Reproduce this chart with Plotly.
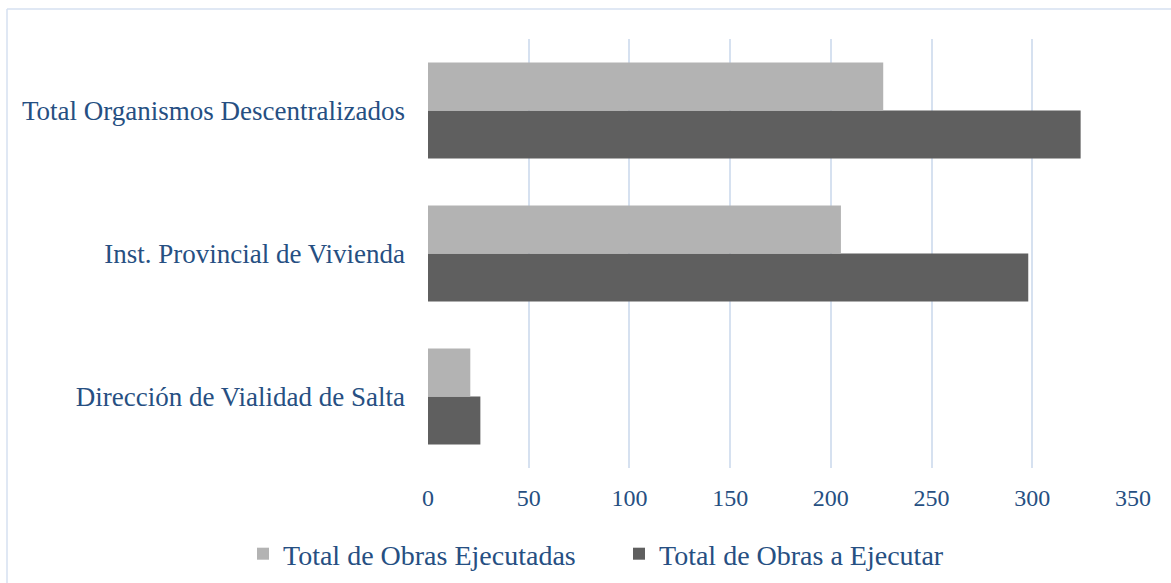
import plotly.graph_objects as go

categories = ["Dirección de Vialidad de Salta", "Inst. Provincial de Vivienda", "Total Organismos Descentralizados"]
ejecutadas = [21, 205, 226]
a_ejecutar = [26, 298, 324]
x_ticks = [0, 50, 100, 150, 200, 250, 300, 350]

text_color = "#264F82"
grid_color = "#D6E1F0"
font_family = "Liberation Serif"

fig = go.Figure()
fig.add_trace(go.Bar(
    y=categories, x=a_ejecutar, orientation="h",
    name="Total de Obras a Ejecutar", marker=dict(color="#5F5F5F", line=dict(width=0)),
))
fig.add_trace(go.Bar(
    y=categories, x=ejecutadas, orientation="h",
    name="Total de Obras Ejecutadas", marker=dict(color="#B3B3B3", line=dict(width=0)),
))

L, R, T, B = 428, 38, 39, 115
W, H = 1171, 583
pw = W - L - R
ph = H - T - B

fig.update_layout(
    width=W, height=H,
    margin=dict(l=L, r=R, t=T, b=B, autoexpand=False),
    paper_bgcolor="white", plot_bgcolor="white",
    barmode="group", bargap=0.329, bargroupgap=0,
    font=dict(family=font_family, color=text_color, size=21),
    showlegend=True,
    legend=dict(
        orientation="h", traceorder="reversed",
        x=(243 - L) / pw, xanchor="left",
        y=-(554 - (T + ph)) / ph, yanchor="middle",
        font=dict(family=font_family, size=28, color=text_color),
        itemwidth=30, entrywidth=331,
        bgcolor="rgba(0,0,0,0)",
    ),
    xaxis=dict(
        range=[0, 350], tickvals=x_ticks, ticktext=[str(v) for v in x_ticks],
        showgrid=True, gridcolor=grid_color, gridwidth=1.5,
        zeroline=False, showline=False, ticks="",
        ticklabelstandoff=13,
        tickfont=dict(family=font_family, size=24, color=text_color),
        fixedrange=True,
    ),
    yaxis=dict(
        showgrid=False, zeroline=False, showline=False, ticks="",
        ticklabelstandoff=22,
        tickfont=dict(family=font_family, size=27, color=text_color),
        fixedrange=True,
    ),
    shapes=[
        dict(type="line", xref="paper", yref="paper",
             x0=(7 - L) / pw, x1=(W + 5 - L) / pw,
             y0=1 + (T - 9) / ph, y1=1 + (T - 9) / ph,
             line=dict(color=grid_color, width=1.5)),
        dict(type="line", xref="paper", yref="paper",
             x0=(7 - L) / pw, x1=(7 - L) / pw,
             y0=1 + (T - 9) / ph, y1=-(H + 5 - T - ph) / ph,
             line=dict(color=grid_color, width=1.5)),
    ],
)

fig.write_html("out.html", config={"displayModeBar": False},
               post_script="document.body.style.margin='0';")
